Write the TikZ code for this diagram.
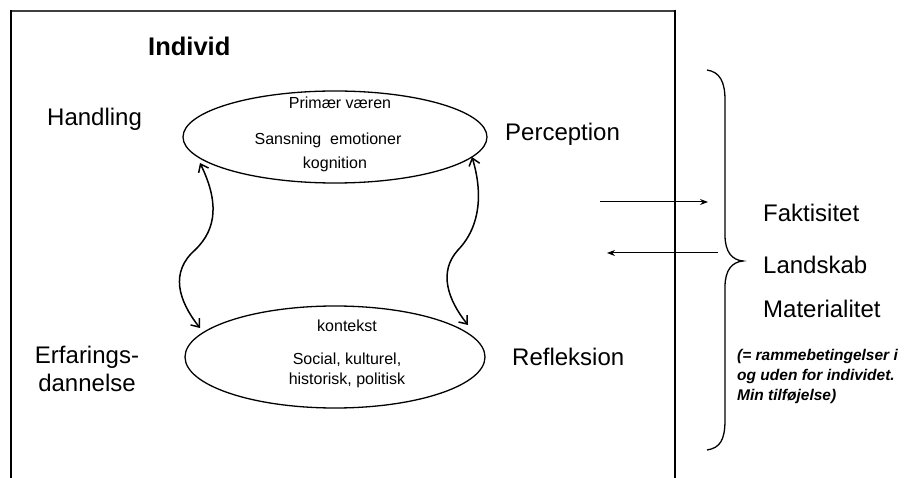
\documentclass[tikz,border=0pt]{standalone}
\usepackage{fontspec}
\setmainfont{Liberation Sans}
\usetikzlibrary{shapes.geometric,arrows.meta}
\begin{document}
\begin{tikzpicture}[x=1pt,y=-1pt,
  big/.style={font=\fontsize{24}{28}\selectfont, inner sep=0pt},
  inner/.style={font=\fontsize{16}{19}\selectfont, inner sep=0pt, anchor=base},
  note/.style={font=\fontsize{15.5}{18}\selectfont\bfseries\itshape, inner sep=0pt, anchor=base west},
  oval/.style={draw, ellipse, line width=1.3pt, inner sep=0pt},
  wavy/.style={line width=1.5pt, {Straight Barb[length=7pt,width=11pt,line width=1.5pt]}-{Straight Barb[length=7pt,width=11pt,line width=1.5pt]}},
  flow/.style={line width=1pt, -{Stealth[length=8pt,width=6pt]}}]
\useasboundingbox (0,0) rectangle (913,478);
% frame
\draw[line width=2pt, black!75] (11,11) -- (675,11);
\draw[line width=2pt] (11,10) -- (11,478);
\draw[line width=2pt] (675,10) -- (675,478);
% ellipses
\node[oval, minimum width=304pt, minimum height=92pt] (top) at (335,137) {};
\node[oval, minimum width=300pt, minimum height=102pt] (bot) at (335,357) {};
% ellipse texts
\node[inner] (t1) at (340,109) {Primær væren};
\node[inner] (t2) at (328,145) {Sansning\ \ emotioner};
\node[inner] (t3) at (335,169) {kognition};
\node[inner] (b1) at (347,332) {kontekst};
\node[inner] (b2) at (347,364) {Social, kulturel,};
\node[inner] (b3) at (347,384) {historisk, politisk};
% labels
\node[big, font=\fontsize{25.5}{30}\selectfont\bfseries, anchor=base west] (ind) at (148,56) {Individ};
\node[big, anchor=base west] (hand) at (47,126) {Handling};
\node[big, anchor=base west] (perc) at (505,141) {Perception};
\node[big, anchor=base] (erf1) at (87,363) {Erfarings-};
\node[big, anchor=base] (erf2) at (87,391) {dannelse};
\node[big, anchor=base west] (refl) at (512,365) {Refleksion};
\node[big, anchor=base west] (fak) at (763,222) {Faktisitet};
\node[big, anchor=base west] (land) at (763,274) {Landskab};
\node[big, anchor=base west] (mat) at (763,318) {Materialitet};
\node[note] (n1) at (737,360) {(= rammebetingelser i};
\node[note] (n2) at (737,380) {og uden for individet.};
\node[note] (n3) at (737,400) {Min tilføjelse)};
% wavy double arrows
\coordinate (la) at (200,163);
\coordinate (lb) at (200,328);
\coordinate (ra) at (472,157);
\coordinate (rb) at (468,325);
\draw[wavy] (la) .. controls (218,200) and (218,228) .. (195,250) .. controls (170,272) and (178,300) .. (lb);
\draw[wavy] (ra) .. controls (482,190) and (482,225) .. (458,250) .. controls (438,272) and (448,300) .. (rb);
% horizontal arrows
\coordinate (h1s) at (600,202);
\coordinate (h1e) at (708,202);
\coordinate (h2s) at (718,253);
\coordinate (h2e) at (607,253);
\draw[flow] (h1s) -- (h1e);
\draw[flow] (h2s) -- (h2e);
% brace
\coordinate (bt) at (707,70);
\coordinate (bm) at (743,261);
\coordinate (bb) at (707,450);
\draw[line width=1.3pt] (bt) .. controls (720,72) and (725,82) .. (725,100) -- (725,235)
  .. controls (725,252) and (732,260) .. (bm)
  .. controls (732,262) and (725,270) .. (725,287) -- (725,420)
  .. controls (725,440) and (720,448) .. (bb);
\end{tikzpicture}
\end{document}
